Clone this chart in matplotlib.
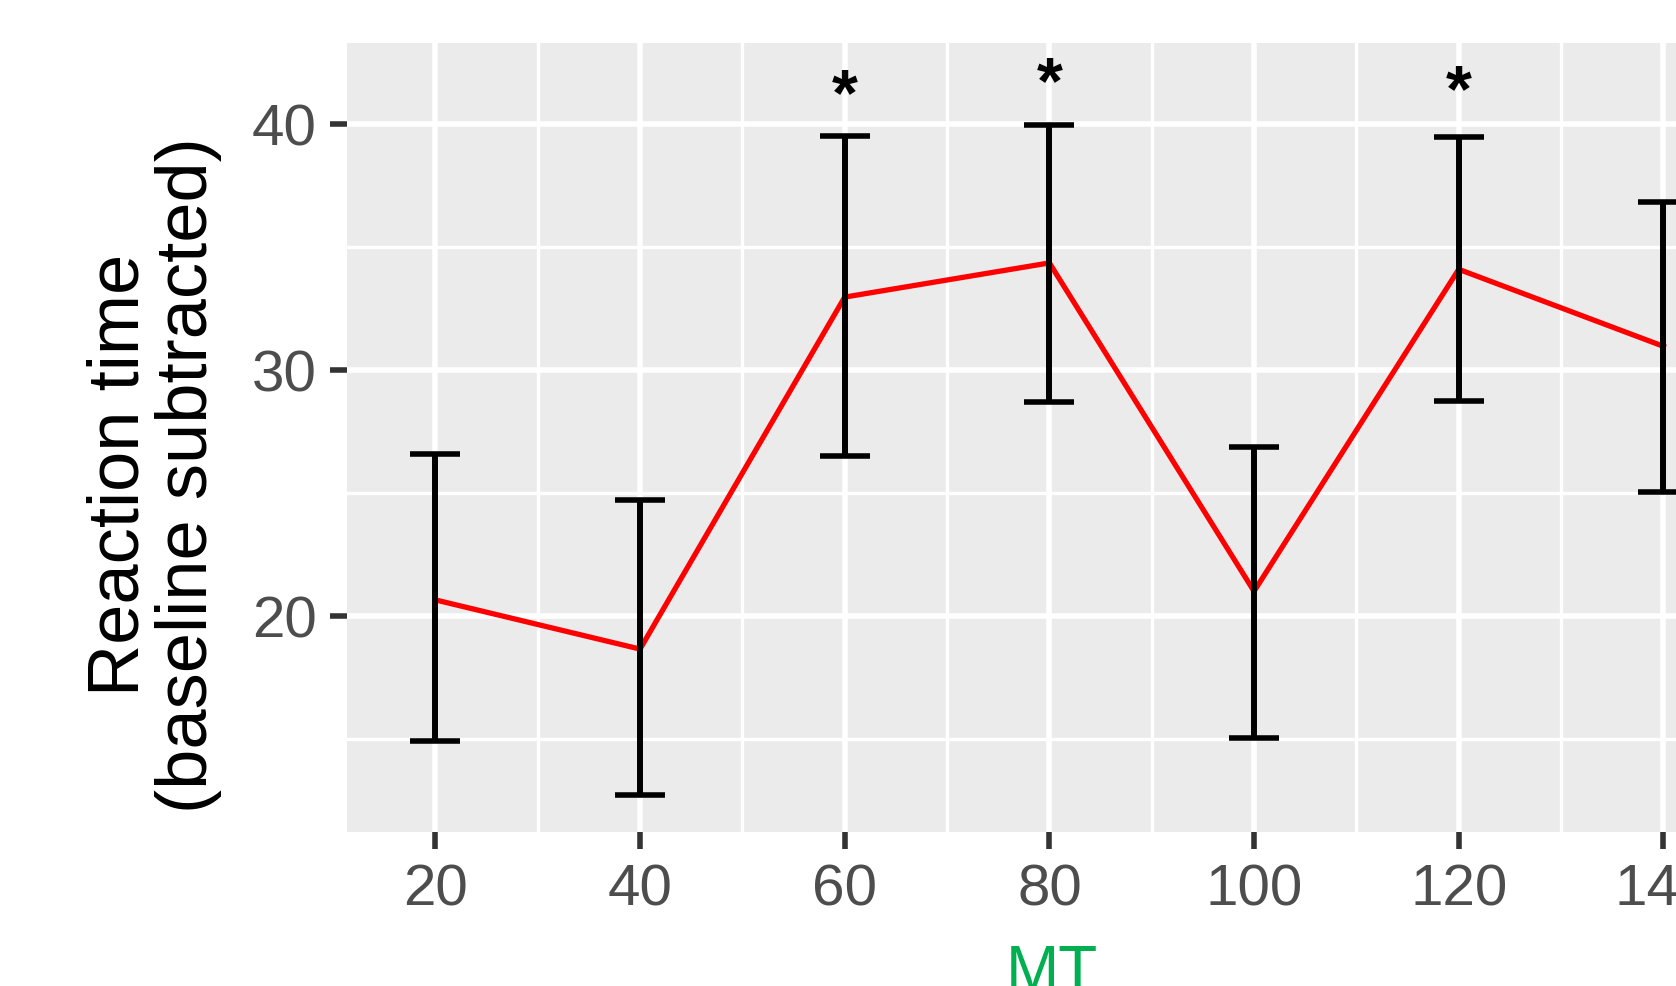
import matplotlib
matplotlib.use("Agg")
import matplotlib.pyplot as plt
import numpy as np

# values
mt = [20, 40, 60, 80, 100, 120, 140]
rt_mean = [20.65, 18.65, 32.96, 34.35, 21.0, 34.09, 30.96]
rt_upper = [26.6, 24.7, 39.5, 39.95, 26.87, 39.48, 36.82]
rt_lower = [14.91, 12.7, 26.48, 28.7, 15.04, 28.74, 25.02]

star_x = [60, 80, 120]
star_y = [41.76, 42.27, 41.95]

xticks = [20, 40, 60, 80, 100, 120, 140]
yticks = [20, 30, 40]

plt.rcParams['font.family'] = ['Liberation Sans', 'DejaVu Sans']

fig = plt.figure(figsize=(16.76, 9.87), dpi=100)
ax = fig.add_axes([0.2073, 0.1557, 1.0 - 0.2073, 0.9554 - 0.1557])
ax.set_facecolor('#EBEBEB')
for s in ax.spines.values():
    s.set_visible(False)

mean = np.array(rt_mean)
yerr = [mean - np.array(rt_lower), np.array(rt_upper) - mean]

ax.plot(mt, rt_mean, color='red', linewidth=3.8, zorder=3)
ax.errorbar(mt, rt_mean, yerr=yerr, fmt='none', ecolor='black',
            elinewidth=4.3, capsize=18, capthick=4.0, zorder=4)

for x, y in zip(star_x, star_y):
    ax.annotate('*', (x, y), xytext=(0, -7), textcoords='offset points',
                fontsize=48, fontweight='bold', color='black',
                ha='center', va='center_baseline', zorder=5)

ax.set_xlim(11.41, 141.23)
ax.set_ylim(11.2, 43.29)
ax.set_xticks(xticks)
ax.set_yticks(yticks)
ax.set_xticks([30, 50, 70, 90, 110, 130], minor=True)
ax.set_yticks([15, 25, 35], minor=True)
ax.grid(which='major', color='white', linewidth=4.0, zorder=0)
ax.grid(which='minor', color='white', linewidth=2.4, zorder=0)
ax.set_axisbelow(True)

ax.tick_params(which='major', length=12, width=4, color='#333333',
               labelsize=42, labelcolor='#4D4D4D', pad=10)
ax.tick_params(which='minor', length=0)

fig.text(0.0919, 0.519, 'Reaction time\n(baseline subtracted)', rotation=90,
         ha='center', va='center', multialignment='center', fontsize=52,
         color='black', linespacing=1.03)

fig.text(1052 / 1676, 1 - 944 / 987, 'MT', ha='center', va='top',
         fontsize=46, color='#00B050')

fig.savefig('out.png', dpi=100)
